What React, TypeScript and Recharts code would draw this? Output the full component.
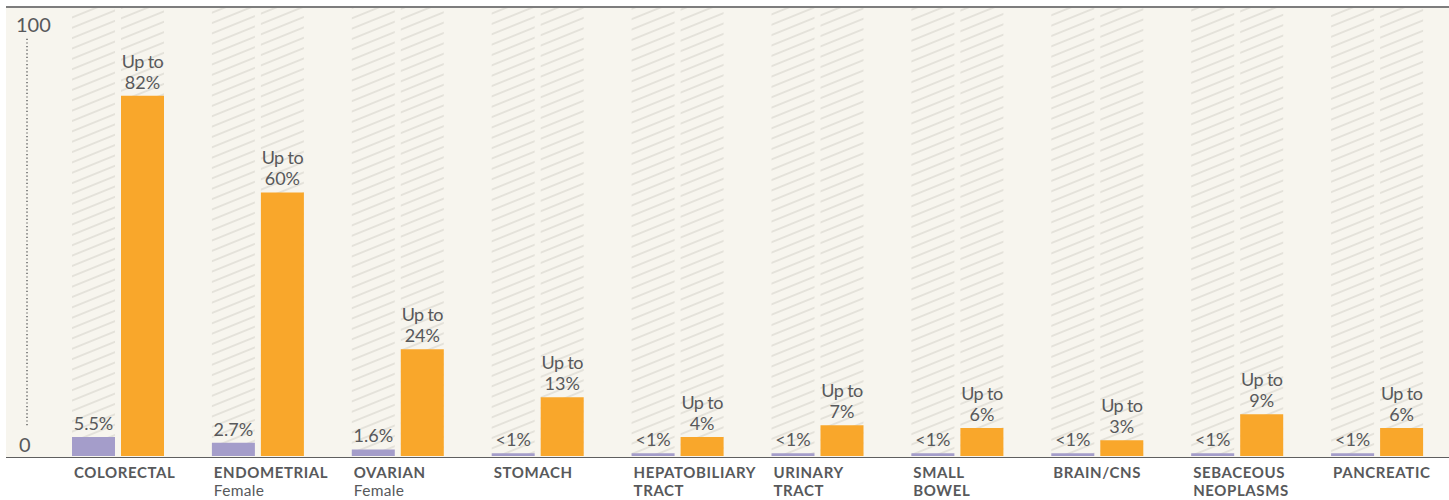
import { BarChart, Bar, XAxis, YAxis, LabelList } from "recharts";

// categories (first line bold, second line either bold word or a plain note)
const categoryTitles = ["COLORECTAL", "ENDOMETRIAL", "OVARIAN", "STOMACH", "HEPATOBILIARY", "URINARY", "SMALL", "BRAIN/CNS", "SEBACEOUS", "PANCREATIC"];
const categorySecondLines = ["", "", "", "", "TRACT", "TRACT", "BOWEL", "", "NEOPLASMS", ""];
const categoryNotes = ["", "Female", "Female", "", "", "", "", "", "", ""];

// bar heights
const generalRisk = [4.3, 3.0, 1.5, 0.6, 0.6, 0.6, 0.6, 0.6, 0.6, 0.6];
const lynchRisk = [82, 60, 24.3, 13.4, 4.3, 7.0, 6.4, 3.6, 9.5, 6.4];

// printed labels
const generalLabels = ["5.5%", "2.7%", "1.6%", "<1%", "<1%", "<1%", "<1%", "<1%", "<1%", "<1%"];
const lynchLabels = ["82%", "60%", "24%", "13%", "4%", "7%", "6%", "3%", "9%", "6%"];

const yTicks = [0, 100];

const data = categoryTitles.map((name, i) => ({
  name,
  general: generalRisk[i],
  lynch: lynchRisk[i],
  generalLabel: generalLabels[i],
  lynchLabel: lynchLabels[i],
}));

const TEXT = "#58595b";
const FONT = "Lato, 'Open Sans', sans-serif";

function YTick({ y, payload }: any) {
  if (payload.value === 100) {
    return (
      <g>
        <text x={16} y={y + 15} fontSize={20} fill={TEXT} fontFamily={FONT}>100</text>
        <line x1={27} x2={27} y1={y + 22} y2={y + 410} stroke="#666" strokeWidth={1.5} strokeDasharray="1.2 2.4" />
      </g>
    );
  }
  return (
    <text x={19} y={y - 4} fontSize={20} fill={TEXT} fontFamily={FONT}>
      {payload.value}
    </text>
  );
}

function XTick({ x, y, payload }: any) {
  const i = payload.index;
  const left = x - 44;
  return (
    <g fontFamily={FONT}>
      <text x={left} y={y + 22} fontSize={15} fontWeight={700} fill={TEXT} letterSpacing={0.6}>
        {categoryTitles[i]}
      </text>
      {categorySecondLines[i] && (
        <text x={left} y={y + 40} fontSize={15} fontWeight={700} fill={TEXT} letterSpacing={0.6}>
          {categorySecondLines[i]}
        </text>
      )}
      {categoryNotes[i] && (
        <text x={left} y={y + 40} fontSize={15.5} fill={TEXT} letterSpacing={0.3}>
          {categoryNotes[i]}
        </text>
      )}
    </g>
  );
}

function GeneralLabel({ x, y, width, value }: any) {
  return (
    <text x={x + width / 2} y={y - 7} textAnchor="middle" fontSize={18} fill={TEXT} fontFamily={FONT}>
      {value}
    </text>
  );
}

function LynchLabel({ x, y, width, value }: any) {
  const cx = x + width / 2;
  return (
    <g fontFamily={FONT} fontSize={18} fill={TEXT}>
      <text x={cx} y={y - 28} textAnchor="middle" letterSpacing={-0.6}>Up to</text>
      <text x={cx} y={y - 7} textAnchor="middle">{value}</text>
    </g>
  );
}

export default function App() {
  return (
    <div style={{ position: "absolute", left: 0, top: 0, width: 1449, height: 500, background: "#fff" }}>
      <div
        style={{
          position: "absolute",
          left: 6,
          top: 6,
          width: 1443,
          height: 451.5,
          boxSizing: "border-box",
          background: "#f7f5ee",
          borderTop: "2px solid #7d7d7d",
          borderBottom: "1.5px solid #5f5f5f",
        }}
      />
      <div style={{ position: "absolute", left: 0, top: 0 }}>
        <BarChart width={1449} height={500} data={data} margin={{ top: 8, right: 2, left: 6, bottom: 14 }} barSize={43} barGap={6}>
          <defs>
            <pattern id="hatch" patternUnits="userSpaceOnUse" width={12} height={9.6} patternTransform="rotate(-22)">
              <line x1={0} y1={4.8} x2={12} y2={4.8} stroke="#dcd9d1" strokeWidth={1.3} />
            </pattern>
          </defs>
          <XAxis dataKey="name" axisLine={false} tickLine={false} tickSize={0} tickMargin={0} height={30} interval={0} tick={<XTick />} />
          <YAxis domain={[0, 102]} ticks={yTicks} axisLine={false} tickLine={false} width={42} tick={<YTick />} />
          <Bar dataKey="general" fill="#a49dca" background={{ fill: "url(#hatch)" }} isAnimationActive={false}>
            <LabelList dataKey="generalLabel" content={<GeneralLabel />} />
          </Bar>
          <Bar dataKey="lynch" fill="#f9a72b" background={{ fill: "url(#hatch)" }} isAnimationActive={false}>
            <LabelList dataKey="lynchLabel" content={<LynchLabel />} />
          </Bar>
        </BarChart>
      </div>
    </div>
  );
}
